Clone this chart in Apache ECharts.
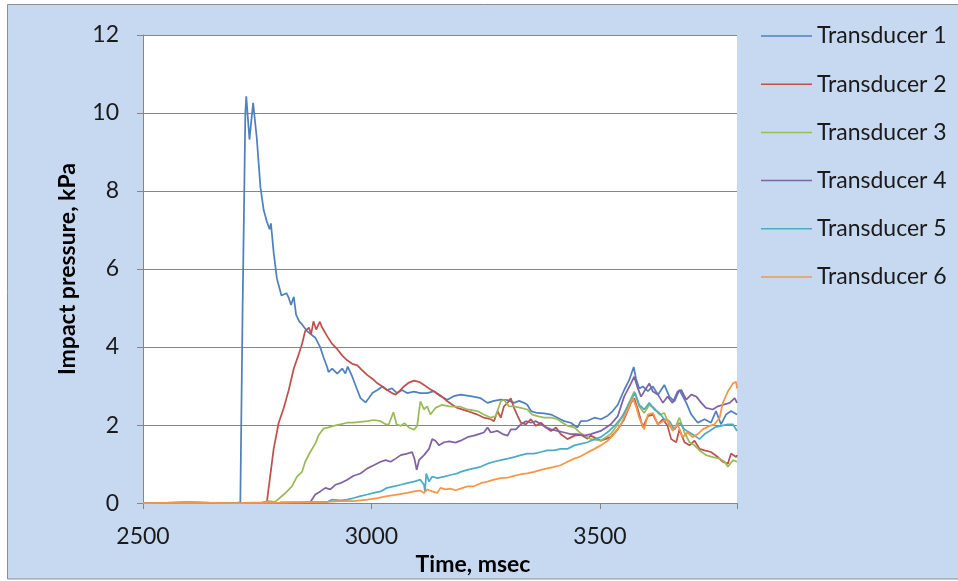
<!DOCTYPE html>
<html>
<head>
<meta charset="utf-8">
<script src="https://cdn.jsdelivr.net/npm/echarts@6/dist/echarts.min.js"></script>
<style>
html,body{margin:0;padding:0;background:#ffffff;}
#chart{width:958px;height:581px;}
</style>
</head>
<body>
<div id="chart"></div>
<script>
// ---- data (time in msec, impact pressure in kPa) ----
var seriesNames = ['Transducer 1','Transducer 2','Transducer 3','Transducer 4','Transducer 5','Transducer 6'];
var xTicks = [2500, 3000, 3500];
var yTicks = [0, 2, 4, 6, 8, 10, 12];

var t1 = [[2500,0],[2600,0.01],[2700,0],[2713,0.02],[2718,5],[2724,10.0],[2726,10.43],[2733,9.32],[2741,10.26],[2749,9.36],[2757,8.1],[2764,7.52],[2771,7.22],[2777,7.02],[2780,7.17],[2786,6.42],[2793,5.76],[2803,5.32],[2814,5.38],[2819,5.26],[2824,5.08],[2830,5.29],[2835,4.83],[2842,4.66],[2848,4.58],[2859,4.41],[2877,4.24],[2888,3.99],[2895,3.74],[2903,3.49],[2906,3.36],[2914,3.45],[2925,3.32],[2936,3.45],[2943,3.32],[2948,3.50],[2958,3.24],[2969,2.90],[2976,2.69],[2987,2.58],[2994,2.69],[3002,2.82],[3013,2.90],[3024,2.99],[3034,2.90],[3045,2.94],[3056,2.82],[3067,2.90],[3078,2.82],[3093,2.86],[3107,2.82],[3122,2.82],[3137,2.87],[3151,2.74],[3166,2.65],[3180,2.74],[3195,2.78],[3217,2.74],[3239,2.69],[3254,2.57],[3268,2.62],[3283,2.65],[3298,2.64],[3312,2.57],[3323,2.62],[3334,2.57],[3341,2.52],[3349,2.36],[3363,2.31],[3378,2.30],[3393,2.27],[3407,2.19],[3422,2.10],[3436,2.06],[3451,1.94],[3458,2.10],[3473,2.11],[3488,2.19],[3502,2.15],[3517,2.24],[3528,2.36],[3539,2.52],[3553,2.90],[3564,3.15],[3574,3.49],[3579,3.19],[3586,2.94],[3594,2.99],[3605,2.87],[3616,2.99],[3627,2.78],[3641,3.03],[3652,2.73],[3663,2.61],[3674,2.90],[3689,2.57],[3700,2.27],[3714,2.06],[3729,2.15],[3743,2.06],[3754,2.36],[3765,2.02],[3776,2.27],[3787,2.36],[3800,2.27]];

var t2 = [[2500,0],[2600,0.01],[2700,0],[2765,0],[2771,0.02],[2786,1.39],[2797,2.06],[2808,2.44],[2819,2.90],[2830,3.45],[2841,3.82],[2848,4.08],[2855,4.41],[2863,4.50],[2868,4.33],[2873,4.66],[2879,4.45],[2887,4.65],[2892,4.50],[2903,4.28],[2914,4.08],[2925,3.95],[2936,3.78],[2947,3.66],[2958,3.57],[2969,3.53],[2980,3.40],[2991,3.28],[3002,3.19],[3013,3.07],[3024,2.99],[3034,2.90],[3045,2.82],[3053,2.78],[3060,2.86],[3071,2.99],[3082,3.09],[3093,3.14],[3104,3.11],[3115,3.03],[3126,2.94],[3137,2.86],[3151,2.76],[3166,2.61],[3177,2.52],[3188,2.44],[3210,2.36],[3232,2.27],[3246,2.19],[3261,2.15],[3268,2.10],[3276,2.36],[3283,2.19],[3290,2.48],[3298,2.57],[3305,2.69],[3312,2.44],[3320,2.23],[3327,2.06],[3338,2.02],[3349,2.15],[3360,1.98],[3371,2.06],[3382,1.94],[3393,1.85],[3404,1.94],[3414,1.77],[3429,1.64],[3444,1.73],[3458,1.75],[3473,1.65],[3480,1.73],[3502,1.60],[3524,1.69],[3539,1.89],[3553,2.15],[3568,2.57],[3575,2.69],[3583,2.40],[3594,1.94],[3605,2.23],[3616,2.27],[3627,2.02],[3638,2.15],[3648,1.98],[3656,1.64],[3667,1.56],[3674,1.89],[3685,1.56],[3696,1.48],[3707,1.60],[3718,1.39],[3729,1.35],[3743,1.31],[3758,1.18],[3769,1.06],[3780,1.01],[3787,1.27],[3798,1.18],[3800,1.23]];

var t3 = [[2500,0],[2600,0.01],[2700,0],[2760,0.02],[2775,0.05],[2789,0.03],[2808,0.22],[2826,0.43],[2837,0.68],[2848,0.80],[2855,1.06],[2866,1.31],[2877,1.52],[2884,1.73],[2895,1.91],[2906,1.94],[2917,1.98],[2932,2.02],[2947,2.06],[2961,2.06],[2976,2.08],[2991,2.10],[3005,2.13],[3020,2.10],[3031,2.02],[3038,2.02],[3048,2.33],[3055,2.02],[3064,1.98],[3072,2.05],[3082,1.94],[3093,1.88],[3100,1.98],[3107,2.61],[3115,2.40],[3122,2.48],[3129,2.27],[3140,2.44],[3155,2.52],[3170,2.48],[3184,2.47],[3195,2.47],[3210,2.40],[3232,2.36],[3246,2.27],[3261,2.19],[3272,2.23],[3283,2.61],[3290,2.65],[3301,2.48],[3312,2.48],[3327,2.44],[3341,2.40],[3352,2.27],[3363,2.23],[3378,2.19],[3393,2.19],[3407,2.15],[3418,2.06],[3429,1.98],[3444,1.94],[3458,1.79],[3473,1.69],[3480,1.64],[3502,1.60],[3524,1.77],[3539,2.02],[3557,2.40],[3575,2.86],[3586,2.48],[3597,2.31],[3608,2.52],[3619,2.44],[3630,2.27],[3641,2.31],[3652,1.98],[3663,1.89],[3674,2.19],[3685,1.81],[3696,1.56],[3707,1.48],[3718,1.35],[3732,1.23],[3747,1.18],[3762,1.14],[3773,1.06],[3780,0.93],[3791,1.10],[3800,1.06]];

var t4 = [[2500,0],[2600,0.01],[2700,0],[2800,0.01],[2866,0.02],[2877,0.22],[2888,0.30],[2899,0.39],[2910,0.35],[2921,0.47],[2932,0.51],[2947,0.60],[2961,0.70],[2976,0.76],[2991,0.89],[3005,0.97],[3020,1.06],[3031,1.10],[3042,1.06],[3053,1.14],[3064,1.23],[3078,1.27],[3089,1.31],[3094,1.14],[3099,0.85],[3104,1.10],[3115,1.23],[3126,1.39],[3133,1.64],[3140,1.60],[3148,1.48],[3159,1.56],[3170,1.58],[3184,1.55],[3195,1.60],[3210,1.69],[3224,1.73],[3235,1.77],[3246,1.81],[3254,1.94],[3261,1.81],[3276,1.85],[3287,1.77],[3298,1.73],[3305,1.89],[3316,1.89],[3327,2.02],[3338,2.10],[3349,2.06],[3360,2.10],[3371,2.02],[3382,1.94],[3393,1.89],[3407,1.85],[3422,1.81],[3436,1.77],[3451,1.77],[3466,1.73],[3480,1.77],[3502,1.85],[3524,2.02],[3539,2.23],[3553,2.73],[3568,3.07],[3575,3.24],[3583,2.94],[3590,2.73],[3601,2.94],[3608,3.07],[3616,2.86],[3627,2.78],[3638,2.57],[3648,2.73],[3659,2.57],[3670,2.86],[3678,2.90],[3689,2.65],[3700,2.78],[3711,2.73],[3722,2.57],[3732,2.44],[3747,2.40],[3758,2.48],[3769,2.52],[3784,2.57],[3795,2.69],[3800,2.57]];

var t5 = [[2500,0],[2600,0.01],[2700,0],[2800,0.01],[2903,0.03],[2914,0.09],[2932,0.07],[2947,0.09],[2961,0.13],[2976,0.18],[2991,0.22],[3005,0.26],[3020,0.30],[3034,0.39],[3049,0.43],[3064,0.47],[3078,0.51],[3093,0.55],[3107,0.60],[3115,0.47],[3117,0.30],[3120,0.76],[3126,0.55],[3133,0.68],[3144,0.64],[3159,0.68],[3173,0.72],[3188,0.76],[3195,0.80],[3210,0.85],[3224,0.89],[3239,0.93],[3254,1.01],[3268,1.06],[3283,1.10],[3298,1.14],[3312,1.18],[3327,1.23],[3341,1.27],[3356,1.27],[3371,1.31],[3385,1.35],[3400,1.35],[3414,1.39],[3429,1.39],[3444,1.48],[3458,1.52],[3473,1.56],[3480,1.60],[3502,1.69],[3520,1.85],[3535,2.02],[3550,2.23],[3561,2.48],[3572,2.73],[3577,2.82],[3586,2.52],[3597,2.40],[3608,2.57],[3619,2.40],[3630,2.31],[3641,2.15],[3652,2.10],[3663,1.89],[3674,2.06],[3685,1.89],[3696,1.81],[3707,1.73],[3718,1.64],[3729,1.77],[3740,1.85],[3751,1.94],[3765,1.98],[3780,2.02],[3791,2.02],[3800,1.85]];

var t6 = [[2500,0],[2600,0.01],[2700,0],[2800,0.01],[2903,0.03],[2932,0.05],[2961,0.05],[2991,0.09],[3013,0.13],[3034,0.18],[3056,0.22],[3078,0.26],[3093,0.30],[3107,0.32],[3115,0.26],[3122,0.35],[3133,0.30],[3144,0.26],[3151,0.39],[3162,0.35],[3173,0.37],[3184,0.33],[3195,0.37],[3210,0.43],[3224,0.43],[3239,0.51],[3254,0.55],[3268,0.60],[3283,0.64],[3298,0.65],[3312,0.70],[3327,0.74],[3341,0.76],[3356,0.80],[3371,0.85],[3385,0.89],[3400,0.93],[3414,0.97],[3429,1.06],[3444,1.14],[3458,1.20],[3473,1.30],[3488,1.39],[3502,1.48],[3517,1.60],[3531,1.77],[3546,2.02],[3561,2.40],[3572,2.69],[3579,2.48],[3586,2.19],[3597,1.89],[3605,2.27],[3616,2.31],[3627,2.02],[3638,2.10],[3648,2.15],[3659,1.85],[3670,2.02],[3681,1.69],[3692,1.81],[3703,1.69],[3714,1.77],[3725,1.89],[3740,1.98],[3751,2.02],[3762,2.19],[3769,2.57],[3780,2.86],[3791,3.07],[3798,3.11],[3800,2.94]];

var allData = [t1, t2, t3, t4, t5, t6];
var colors = ['#4F81BD','#C0504D','#9BBB59','#8064A2','#4BACC6','#F79646'];

var FONT = 'Lato';
var chart = echarts.init(document.getElementById('chart'), null, {renderer:'canvas'});
var option = {
  backgroundColor: '#ffffff',
  animation: false,
  graphic: [{
    type: 'rect', z: -100, silent: true,
    shape: {x: 7.5, y: 4.5, width: 960, height: 574.5},
    style: {fill: '#C6D9F1', stroke: '#8e8e8e', lineWidth: 1}
  }],
  grid: {left: 143, right: 221, top: 35, bottom: 69, show: true, backgroundColor: '#ffffff', borderWidth: 0},
  legend: {
    orient: 'vertical', left: 756, top: 19, padding: 5,
    icon: 'rect', itemWidth: 51, itemHeight: 1.5, itemGap: 24.2,
    textStyle: {fontFamily: FONT, fontSize: 23, color: '#1a1a1a', lineHeight: 24},
    data: seriesNames
  },
  xAxis: {
    type: 'value', min: xTicks[0], max: 3800, interval: xTicks[1] - xTicks[0],
    name: 'Time, msec', nameLocation: 'middle', nameGap: 37,
    nameTextStyle: {fontFamily: FONT, fontSize: 23, fontWeight: 'bold', color: '#000', padding: [0,0,0,66]},
    axisLine: {show: true, lineStyle: {color: '#868686', width: 1}},
    axisTick: {show: true, length: 6, lineStyle: {color: '#868686'}},
    axisLabel: {fontFamily: FONT, fontSize: 23, color: '#1a1a1a', margin: 22,
      formatter: function(v){ return xTicks.indexOf(v) >= 0 ? String(v) : ''; }},
    splitLine: {show: false}
  },
  yAxis: {
    type: 'value', min: yTicks[0], max: yTicks[yTicks.length-1], interval: yTicks[1] - yTicks[0],
    name: 'Impact pressure, kPa', nameLocation: 'middle', nameGap: 64,
    nameTextStyle: {fontFamily: FONT, fontSize: 23, fontWeight: 'bold', color: '#000'},
    axisLine: {show: true, lineStyle: {color: '#868686', width: 1}},
    axisTick: {show: true, length: 6, lineStyle: {color: '#868686'}},
    axisLabel: {fontFamily: FONT, fontSize: 23, color: '#1a1a1a', margin: 24},
    splitLine: {show: true, lineStyle: {color: '#868686', width: 1}}
  },
  series: seriesNames.map(function(n, i){
    return {
      name: n, type: 'line', data: allData[i], symbol: 'none', showSymbol: false,
      lineStyle: {color: colors[i], width: 1.75}, itemStyle: {color: colors[i]},
      clip: true
    };
  })
};
chart.setOption(option);
</script>
</body>
</html>
